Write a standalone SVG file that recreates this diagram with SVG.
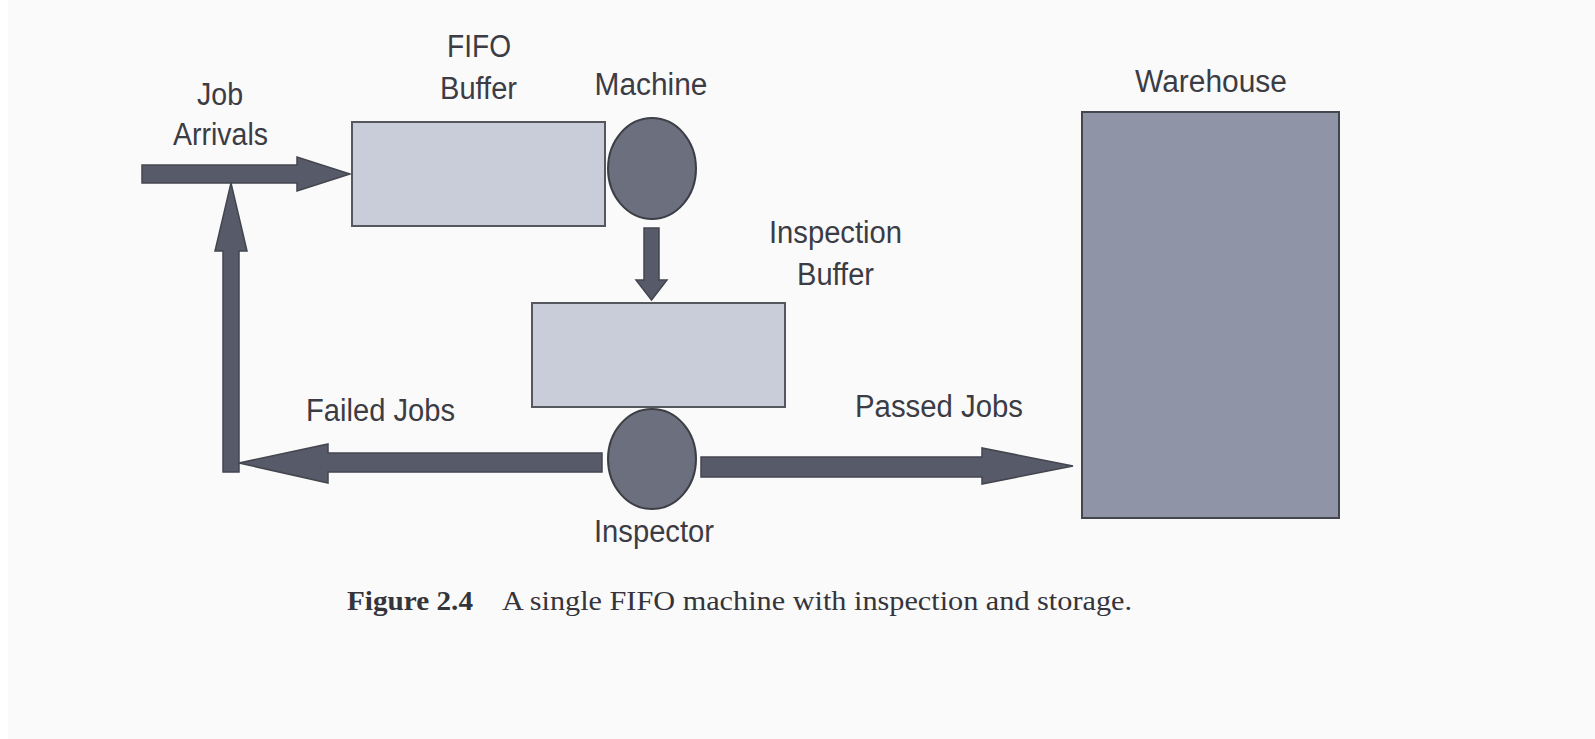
<svg xmlns="http://www.w3.org/2000/svg" width="1595" height="739" viewBox="0 0 1595 739">
<style>
.lbl{font-family:"Liberation Sans",Arial,sans-serif;font-size:31px;fill:#3b3c44}
.cap{font-family:"Liberation Serif","Times New Roman",serif;font-size:28px;fill:#34343a}
.buf{fill:#c9cdd9;stroke:#55575f;stroke-width:2}
.circ{fill:#6c6f7d;stroke:#3d3f47;stroke-width:2}
.wh{fill:#8f95a7;stroke:#44464e;stroke-width:2}
.arr{fill:#575a68;stroke:#44464f;stroke-width:1.5;stroke-linejoin:miter}
</style>
<rect x="0" y="0" width="1595" height="739" fill="#fafafa"/>
<rect x="0" y="0" width="8" height="739" fill="#ffffff"/>

<g id="connectors">
<polygon class="arr" points="142,165 297,165 297,157 350,174 297,191 297,183 142,183"/>
<polygon class="arr" points="223,472 223,251 215,251 231,183 247,251 239,251 239,472"/>
<polygon class="arr" points="602,453 328,453 328,444 239,463 328,483 328,472 602,472"/>
<polygon class="arr" points="644,228 659,228 659,280 667,280 651.5,300 636,280 644,280"/>
<polygon class="arr" points="701,457 982,457 982,448 1073,466 982,484 982,477 701,477"/>
</g>

<g id="job-arrivals">
<text class="lbl" x="220" y="105" text-anchor="middle" textLength="46" lengthAdjust="spacingAndGlyphs">Job</text>
<text class="lbl" x="220.5" y="145" text-anchor="middle" textLength="95" lengthAdjust="spacingAndGlyphs">Arrivals</text>
</g>

<g id="fifo-buffer">
<rect class="buf" x="352" y="122" width="253" height="104"/>
<text class="lbl" x="479" y="57" text-anchor="middle" textLength="64" lengthAdjust="spacingAndGlyphs">FIFO</text>
<text class="lbl" x="478.5" y="99" text-anchor="middle" textLength="77" lengthAdjust="spacingAndGlyphs">Buffer</text>
</g>

<g id="machine">
<ellipse class="circ" cx="652" cy="168.5" rx="44" ry="50.5"/>
<text class="lbl" x="651" y="95" text-anchor="middle" textLength="113" lengthAdjust="spacingAndGlyphs">Machine</text>
</g>

<g id="inspection-buffer">
<rect class="buf" x="532" y="303" width="253" height="104"/>
<text class="lbl" x="835.5" y="243" text-anchor="middle" textLength="133" lengthAdjust="spacingAndGlyphs">Inspection</text>
<text class="lbl" x="835.5" y="285" text-anchor="middle" textLength="77" lengthAdjust="spacingAndGlyphs">Buffer</text>
</g>

<g id="inspector">
<ellipse class="circ" cx="652" cy="459" rx="44" ry="50"/>
<text class="lbl" x="654" y="542" text-anchor="middle" textLength="120" lengthAdjust="spacingAndGlyphs">Inspector</text>
</g>

<g id="failed-jobs">
<text class="lbl" x="306" y="421" textLength="149" lengthAdjust="spacingAndGlyphs">Failed Jobs</text>
</g>

<g id="passed-jobs">
<text class="lbl" x="855" y="417" textLength="168" lengthAdjust="spacingAndGlyphs">Passed Jobs</text>
</g>

<g id="warehouse">
<rect class="wh" x="1082" y="112" width="257" height="406"/>
<text class="lbl" x="1135" y="92" textLength="152" lengthAdjust="spacingAndGlyphs">Warehouse</text>
</g>

<g id="caption">
<text class="cap" x="347" y="610" font-weight="bold" textLength="126" lengthAdjust="spacingAndGlyphs">Figure 2.4</text>
<text class="cap" x="502" y="610" textLength="630" lengthAdjust="spacingAndGlyphs">A single FIFO machine with inspection and storage.</text>
</g>
</svg>
